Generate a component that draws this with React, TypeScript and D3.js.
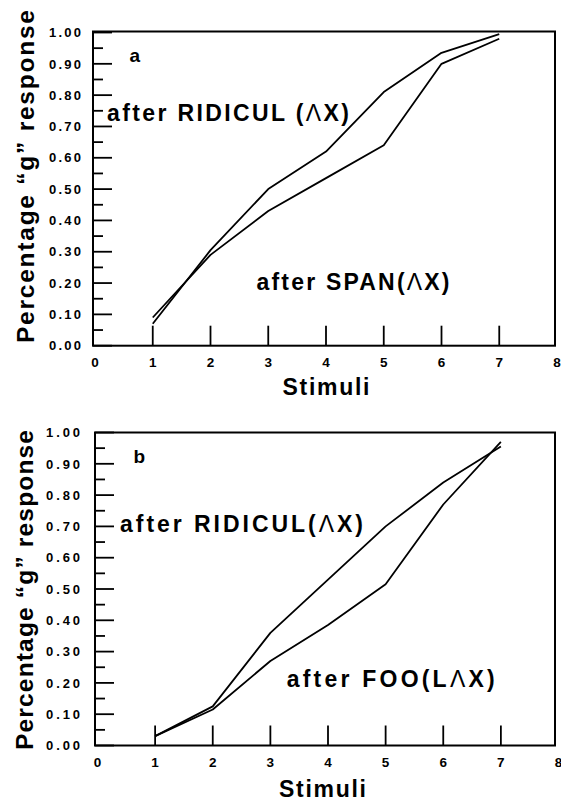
import React from "react";
import * as d3 from "d3";

// ---- data ----
const stimuli = [1, 2, 3, 4, 5, 6, 7];
const ridiculA = [0.07, 0.305, 0.5, 0.62, 0.81, 0.935, 0.995];
const spanA = [0.09, 0.29, 0.43, 0.535, 0.64, 0.9, 0.98];
const ridiculB = [0.03, 0.125, 0.36, 0.53, 0.7, 0.84, 0.955];
const fooB = [0.03, 0.115, 0.27, 0.385, 0.515, 0.77, 0.97];
const yTickValues = [0, 0.1, 0.2, 0.3, 0.4, 0.5, 0.6, 0.7, 0.8, 0.9, 1.0];
const yTickLabels = ["0.00", "0.10", "0.20", "0.30", "0.40", "0.50", "0.60", "0.70", "0.80", "0.90", "1.00"];
const xTickValues = [0, 1, 2, 3, 4, 5, 6, 7, 8];
const xTickLabels = ["0", "1", "2", "3", "4", "5", "6", "7", "8"];
const yMinorTicks = [0.05, 0.15, 0.25, 0.35, 0.45, 0.55, 0.65, 0.75, 0.85, 0.95];

const FONT = "'Liberation Sans', Arial, Helvetica, sans-serif";

type Label = { text: React.ReactNode; x: number; y: number; len: number; size: number };

type PanelCfg = {
  series: number[][];
  xr: [number, number];
  yr: [number, number];
  frame: { x0: number; x1: number; y0: number; y1: number };
  letter: { t: string; x: number; y: number };
  labels: Label[];
  yTickX: number;
  yTickLen: number;
  xLabelY: number;
  stim: { cx: number; y: number };
  ylab: { x: number; cy: number; len: number };
};

const Lam = () => <tspan fontWeight={400}>Λ</tspan>;

const panels: PanelCfg[] = [
  {
    series: [ridiculA, spanA],
    xr: [95, 557],
    yr: [345.7, 32.5],
    frame: { x0: 93, x1: 555, y0: 31.5, y1: 345.7 },
    letter: { t: "a", x: 129.5, y: 61.5 },
    labels: [
      { text: <>after RIDICUL (<Lam />X)</>, x: 107, y: 120.5, len: 242, size: 23 },
      { text: <>after SPAN(<Lam />X)</>, x: 256.5, y: 289.5, len: 193, size: 23 },
    ],
    yTickX: 49,
    yTickLen: 32,
    xLabelY: 366.5,
    stim: { cx: 326, y: 395 },
    ylab: { x: 34, cy: 176.5, len: 333 },
  },
  {
    series: [ridiculB, fooB],
    xr: [97.5, 558.5],
    yr: [745.5, 432.5],
    frame: { x0: 95, x1: 555, y0: 432.5, y1: 745.5 },
    letter: { t: "b", x: 133.5, y: 463.3 },
    labels: [
      { text: <>after RIDICUL(<Lam />X)</>, x: 120, y: 531.7, len: 243, size: 23 },
      { text: <>after FOO(L<Lam />X)</>, x: 286.7, y: 687.3, len: 208, size: 23 },
    ],
    yTickX: 46,
    yTickLen: 34,
    xLabelY: 766.5,
    stim: { cx: 322.5, y: 796.5 },
    ylab: { x: 32.5, cy: 590, len: 320 },
  },
];

function Panel({ cfg }: { cfg: PanelCfg }) {
  const x = d3.scaleLinear().domain([0, 8]).range(cfg.xr);
  const y = d3.scaleLinear().domain([0, 1]).range(cfg.yr);
  const line = d3
    .line<number>()
    .x((_, i) => x(stimuli[i]))
    .y((d) => y(d));
  const f = cfg.frame;
  return (
    <g>
      <rect x={f.x0} y={f.y0} width={f.x1 - f.x0} height={f.y1 - f.y0} fill="none" stroke="#000" strokeWidth={2} />
      {yTickValues.map((v, i) => (
        <g key={"yt" + i}>
          <line x1={f.x0} x2={f.x0 + 19} y1={y(v)} y2={y(v)} stroke="#000" strokeWidth={1.8} />
          <text x={cfg.yTickX} y={y(v) + 4.7} fontFamily={FONT} fontWeight={700} fontSize={13} textLength={cfg.yTickLen} lengthAdjust="spacing">
            {yTickLabels[i]}
          </text>
        </g>
      ))}
      {yMinorTicks.map((v, i) => (
        <line key={"ym" + i} x1={f.x0} x2={f.x0 + 10} y1={y(v)} y2={y(v)} stroke="#000" strokeWidth={1.8} />
      ))}
      {xTickValues.map((v, i) => (
        <g key={"xt" + i}>
          {v > 0 && v < 8 && (
            <line x1={x(v)} x2={x(v)} y1={f.y1} y2={f.y1 - 20} stroke="#000" strokeWidth={1.8} />
          )}
          <text x={x(v)} y={cfg.xLabelY} textAnchor="middle" fontFamily={FONT} fontWeight={700} fontSize={13.5}>
            {xTickLabels[i]}
          </text>
        </g>
      ))}
      {cfg.series.map((s, i) => (
        <path key={"s" + i} d={line(s) || ""} fill="none" stroke="#000" strokeWidth={1.8} strokeLinejoin="round" />
      ))}
      <text x={cfg.letter.x} y={cfg.letter.y} fontFamily={FONT} fontWeight={700} fontSize={19}>
        {cfg.letter.t}
      </text>
      {cfg.labels.map((l, i) => (
        <text key={"l" + i} x={l.x} y={l.y} fontFamily={FONT} fontWeight={700} fontSize={l.size} textLength={l.len} lengthAdjust="spacing">
          {l.text}
        </text>
      ))}
      <text x={cfg.stim.cx - 43.5} y={cfg.stim.y} fontFamily={FONT} fontWeight={700} fontSize={23} textLength={87} lengthAdjust="spacing">
        Stimuli
      </text>
      <text
        transform={`translate(${cfg.ylab.x},${cfg.ylab.cy + cfg.ylab.len / 2}) rotate(-90)`}
        x={0}
        y={0}
        fontFamily={FONT}
        fontWeight={700}
        fontSize={24.5}
        textLength={cfg.ylab.len}
        lengthAdjust="spacing"
      >
        Percentage “g” response
      </text>
    </g>
  );
}

export default function App() {
  return (
    <svg
      width={561}
      height={800}
      viewBox="0 0 561 800"
      style={{ position: "absolute", left: 0, top: 0, background: "#fff" }}
    >
      <rect x={0} y={0} width={561} height={800} fill="#fff" />
      {panels.map((p, i) => (
        <Panel key={i} cfg={p} />
      ))}
    </svg>
  );
}
